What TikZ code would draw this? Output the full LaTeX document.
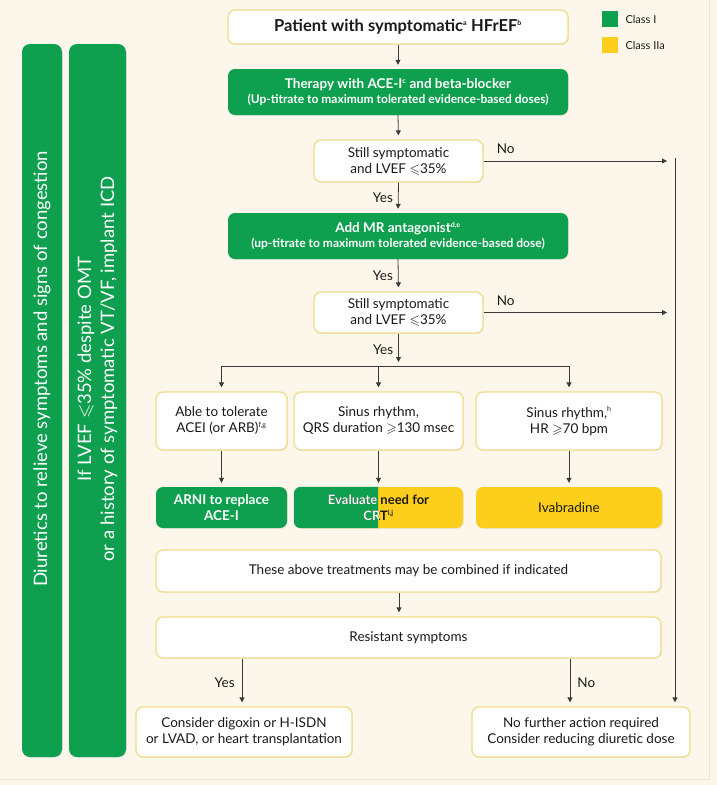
\documentclass[tikz,border=0pt]{standalone}
\usepackage{amssymb}
\usepackage{fontspec}
\setmainfont{Lato}
\usetikzlibrary{arrows.meta,shadows}
\definecolor{bg}{HTML}{FCF7EA}
\definecolor{gr}{HTML}{0FA04F}
\definecolor{yl}{HTML}{FDCF1C}
\definecolor{bd}{HTML}{F0DC8A}
\definecolor{ln}{HTML}{3A3A3A}
\definecolor{tx}{HTML}{1A1A1A}
\definecolor{frame}{HTML}{EDE6CF}
\newcommand{\mainsize}{\fontsize{13.5}{16}\selectfont}
\newcommand{\sps}[1]{\textsuperscript{\fontsize{7}{7}\selectfont #1}}
\tikzset{
 base/.style={rounded corners=7pt, align=center, inner sep=2pt, font=\mainsize, text=tx,
   drop shadow={opacity=0.15, shadow xshift=0.8pt, shadow yshift=-0.8pt}},
 wbox/.style={base, fill=white, draw=bd, line width=1.3pt},
 gbox/.style={base, fill=gr, text=white, font=\bfseries\fontsize{12}{15}\selectfont},
 ybox/.style={base, fill=yl},
 gbar/.style={rounded corners=8pt, fill=gr, drop shadow={opacity=0.15, shadow xshift=0.8pt, shadow yshift=-0.8pt}},
 bartext/.style={rotate=90, text=white, align=center, font=\fontsize{18.5}{23}\selectfont},
 arr/.style={-{Triangle[length=5pt,width=5pt]}, draw=ln, line width=0.8pt, shorten >=4pt},
 arrn/.style={-{Triangle[length=5pt,width=5pt]}, draw=ln, line width=0.8pt},
 plain/.style={draw=ln, line width=0.8pt},
 lbl/.style={font=\mainsize, text=tx, inner sep=1pt},
 legsq/.style={minimum size=16pt, inner sep=0pt},
 legtx/.style={anchor=west, font=\fontsize{11}{13}\selectfont, text=tx},
 splittext/.style={align=center, font=\bfseries\fontsize{13}{15.5}\selectfont},
}
\begin{document}
\begin{tikzpicture}[x=1pt,y=-1pt]
\useasboundingbox (0,0) rectangle (717,785);
\fill[bg] (0,0) rectangle (717,785);
\draw[frame, line width=0.8pt] (709,0) -- (709,779) -- (0,779);

% left bars
\node[gbar, minimum width=40pt, minimum height=713pt] (bar1) at (42,400.5) {};
\node[gbar, minimum width=57pt, minimum height=713pt] (bar2) at (97.5,400.5) {};
\node[bartext] (bt1) at (42,369) {Diuretics to relieve symptoms and signs of congestion};
\node[bartext] (bt2) at (97.5,369) {If LVEF $\leqslant$35\% despite OMT\\or a history of symptomatic VT/VF, implant ICD};

% legend
\node[legsq, fill=gr] (lg1) at (609.5,19) {};
\node[legtx] (lt1) at (622,19) {Class I};
\node[legsq, fill=yl] (lg2) at (609.5,45) {};
\node[legtx] (lt2) at (622,45) {Class IIa};

% main flow
\node[wbox, minimum width=340pt, minimum height=34pt, font=\bfseries\fontsize{16.5}{19}\selectfont] (p) at (398,27)
  {Patient with symptomatic\sps{a} HFrEF\sps{b}};
\node[gbox, minimum width=340pt, minimum height=46pt] (t) at (398,92)
  {{\fontsize{13.5}{16}\selectfont Therapy with ACE-I\sps{c} and beta-blocker}\\(Up-titrate to maximum tolerated evidence-based doses)};
\node[wbox, minimum width=169pt, minimum height=42pt] (d1) at (398.5,161) {Still symptomatic\\and LVEF $\leqslant$35\%};
\node[gbox, minimum width=340pt, minimum height=46pt] (mr) at (398,236)
  {{\fontsize{13.5}{16}\selectfont Add MR antagonist\sps{d,e}}\\(up-titrate to maximum tolerated evidence-based dose)};
\node[wbox, minimum width=169pt, minimum height=41pt] (d2) at (398.5,312.5) {Still symptomatic\\and LVEF $\leqslant$35\%};

% three branches
\node[wbox, minimum width=131pt, minimum height=58pt] (a) at (221.5,421) {Able to tolerate\\ACEI (or ARB)\sps{f,g}};
\node[wbox, minimum width=169pt, minimum height=58pt] (b) at (378.5,421) {Sinus rhythm,\\QRS duration $\geqslant$130 msec};
\node[wbox, minimum width=186pt, minimum height=58pt] (c) at (569,421) {Sinus rhythm,\sps{h}\\HR $\geqslant$70 bpm};

\node[gbox, minimum width=131pt, minimum height=41pt, font=\bfseries\fontsize{13.5}{16}\selectfont] (ga) at (221.5,507.5) {ARNI to replace\\ACE-I};
\node[ybox, minimum width=169pt, minimum height=41pt] (gb) at (378.5,507.5) {};
\coordinate (splitx) at (378,0);
\begin{scope}
  \clip (gb.north west) rectangle (splitx |- gb.south);
  \fill[gr, rounded corners=7pt] (gb.north west) rectangle (gb.south east);
\end{scope}
\node[splittext, text=tx] (gbt) at (gb.center) {Evaluate need for\\CRT\sps{i,j}};
\begin{scope}
  \clip (gb.north west) rectangle (splitx |- gb.south);
  \node[splittext, text=white] (gbw) at (gb.center) {Evaluate need for\\CRT\sps{i,j}};
\end{scope}
\node[ybox, minimum width=186pt, minimum height=41pt] (gc) at (569,507.5) {Ivabradine};

\node[wbox, minimum width=505pt, minimum height=42pt] (comb) at (408.5,571) {These above treatments may be combined if indicated};
\node[wbox, minimum width=505pt, minimum height=41pt] (res) at (408.5,637.5) {Resistant symptoms};

\node[wbox, minimum width=216pt, minimum height=50pt] (cl) at (244,732) {Consider digoxin or H-ISDN\\or LVAD, or heart transplantation};
\node[wbox, minimum width=218pt, minimum height=50pt] (cr) at (581,732) {No further action required\\Consider reducing diuretic dose};

% connectors
\draw[arr] (p.south) -- (t.north);
\draw[arr] (t.south) -- (d1.north);
\draw[arr] (d1.south) -- (mr.north) node[midway, left=4pt, lbl] {Yes};
\draw[arr] (mr.south) -- (d2.north) node[midway, left=4pt, lbl] {Yes};
\coordinate (n1) at (667,161);
\coordinate (n2) at (667,312.5);
\draw[arrn] (d1.east) -- (n1) node[pos=0.12, above=6pt, lbl] {No};
\draw[arrn] (d2.east) -- (n2) node[pos=0.12, above=6pt, lbl] {No};
\coordinate (vtop) at (675,158);
\draw[arr] (vtop) -- (vtop |- cr.north);

\coordinate (hl) at (398.5,366);
\draw[arr] (d2.south) -- (hl) node[midway, left=4pt, lbl] {Yes};
\draw[plain] (a.north |- hl) -- (c.north |- hl);
\draw[arr] (a.north |- hl) -- (a.north);
\draw[arr] (b.north |- hl) -- (b.north);
\draw[arr] (c.north |- hl) -- (c.north);

\draw[arr] (a.south) -- (ga.north);
\draw[arr] (b.south) -- (gb.north);
\draw[arr] (c.south) -- (gc.north);

\coordinate (cx) at (399,0);
\draw[arr] (comb.south -| cx) -- (res.north -| cx);
\coordinate (yx) at (242,0);
\coordinate (nx) at (570,0);
\draw[arr] (res.south -| yx) -- (cl.north -| yx) node[midway, left=6pt, lbl] {Yes};
\draw[arr] (res.south -| nx) -- (cr.north -| nx) node[midway, right=6pt, lbl] {No};
\end{tikzpicture}
\end{document}
